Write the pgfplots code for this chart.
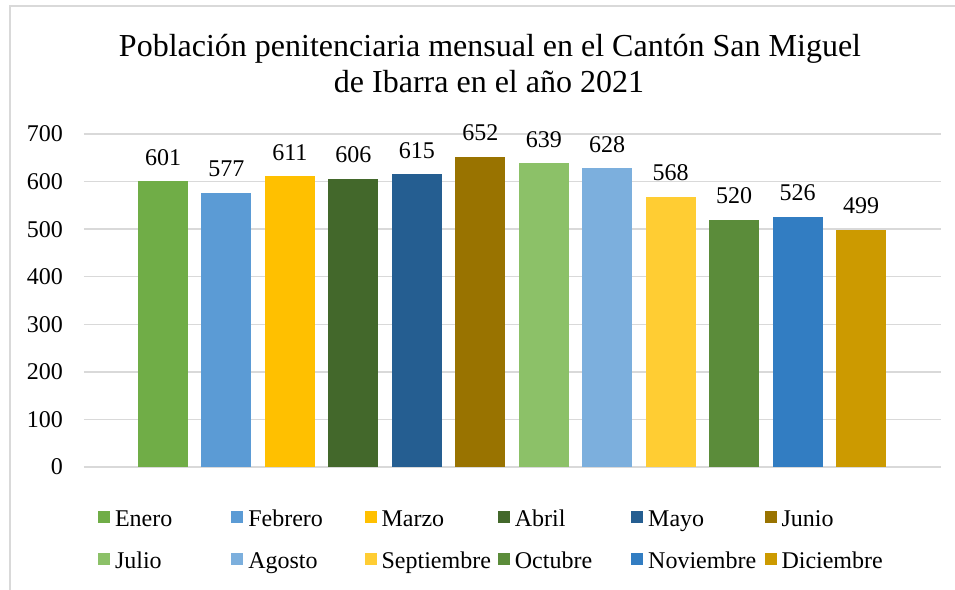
\documentclass[border=0pt]{standalone}
\usepackage{fontspec}
\setmainfont{Liberation Serif}
\usepackage{pgfplots}
\pgfplotsset{compat=1.18}
\definecolor{c1}{HTML}{70AD47}
\definecolor{c2}{HTML}{5B9BD5}
\definecolor{c3}{HTML}{FFC000}
\definecolor{c4}{HTML}{43682B}
\definecolor{c5}{HTML}{255E91}
\definecolor{c6}{HTML}{997300}
\definecolor{c7}{HTML}{8CC168}
\definecolor{c8}{HTML}{7CAFDD}
\definecolor{c9}{HTML}{FFCD33}
\definecolor{c10}{HTML}{5B8C3A}
\definecolor{c11}{HTML}{327DC2}
\definecolor{c12}{HTML}{CC9A00}
\definecolor{gridc}{HTML}{D9D9D9}
\newcommand{\lbl}{\fontsize{24bp}{28bp}\selectfont}
\newcommand{\lgt}[1]{\makebox[116.3bp][l]{#1}}
\begin{document}
\begin{tikzpicture}
\begin{axis}[
  scale only axis, width=857bp, height=333bp,
  xmin=-1.245, xmax=12.26, ymin=0, ymax=700,
  ytick={0,100,...,700}, xtick=\empty,
  ymajorgrids, grid style={color=gridc, line width=1.5bp},
  axis line style={draw=none}, major tick length=0pt,
  /pgf/number format/assume math mode=true,
  yticklabel style={font=\lbl, inner sep=0pt, xshift=-21bp},
  ybar, bar width=50bp, bar shift=0pt,
  nodes near coords,
  every node near coord/.append style={font=\lbl, anchor=base, yshift=16bp, inner sep=0pt, text=black},
  legend columns=6,
  legend style={at={(axis description cs:0.01634,-0.1291)}, anchor=north west, draw=none, fill=none,
     inner sep=0pt, outer sep=0pt, font=\lbl, row sep=24bp, column sep=0pt,
     nodes={inner sep=0pt}},
  legend image code/.code={\fill[#1] (0bp,-4bp) rectangle (12bp,8bp); \path (17bp,2bp);},
]
\addplot[fill=c1, draw=none] coordinates {(0,601)}; \addlegendentry{\lgt{Enero}}
\addplot[fill=c2, draw=none] coordinates {(1,577)}; \addlegendentry{\lgt{Febrero}}
\addplot[fill=c3, draw=none] coordinates {(2,611)}; \addlegendentry{\lgt{Marzo}}
\addplot[fill=c4, draw=none] coordinates {(3,606)}; \addlegendentry{\lgt{Abril}}
\addplot[fill=c5, draw=none] coordinates {(4,615)}; \addlegendentry{\lgt{Mayo}}
\addplot[fill=c6, draw=none] coordinates {(5,652)}; \addlegendentry{\lgt{Junio}}
\addplot[fill=c7, draw=none] coordinates {(6,639)}; \addlegendentry{\lgt{Julio}}
\addplot[fill=c8, draw=none] coordinates {(7,628)}; \addlegendentry{\lgt{Agosto}}
\addplot[fill=c9, draw=none] coordinates {(8,568)}; \addlegendentry{\lgt{Septiembre}}
\addplot[fill=c10, draw=none] coordinates {(9,520)}; \addlegendentry{\lgt{Octubre}}
\addplot[fill=c11, draw=none] coordinates {(10,526)}; \addlegendentry{\lgt{Noviembre}}
\addplot[fill=c12, draw=none] coordinates {(11,499)}; \addlegendentry{\lgt{Diciembre}}
\end{axis}
\node[anchor=base, font=\fontsize{32bp}{37bp}\selectfont, inner sep=0pt] at (406bp,410bp) {Población penitenciaria mensual en el Cantón San Miguel};
\node[anchor=base, font=\fontsize{32bp}{37bp}\selectfont, inner sep=0pt] at (405bp,374bp) {de Ibarra en el año 2021};
\draw[color=gridc, line width=1.5bp] (-74bp,-140bp) -- (-74bp,461bp) -- (890bp,461bp);
\pgfresetboundingbox
\path[use as bounding box] (-84bp,-123bp) rectangle (871bp,467bp);
\end{tikzpicture}
\end{document}
